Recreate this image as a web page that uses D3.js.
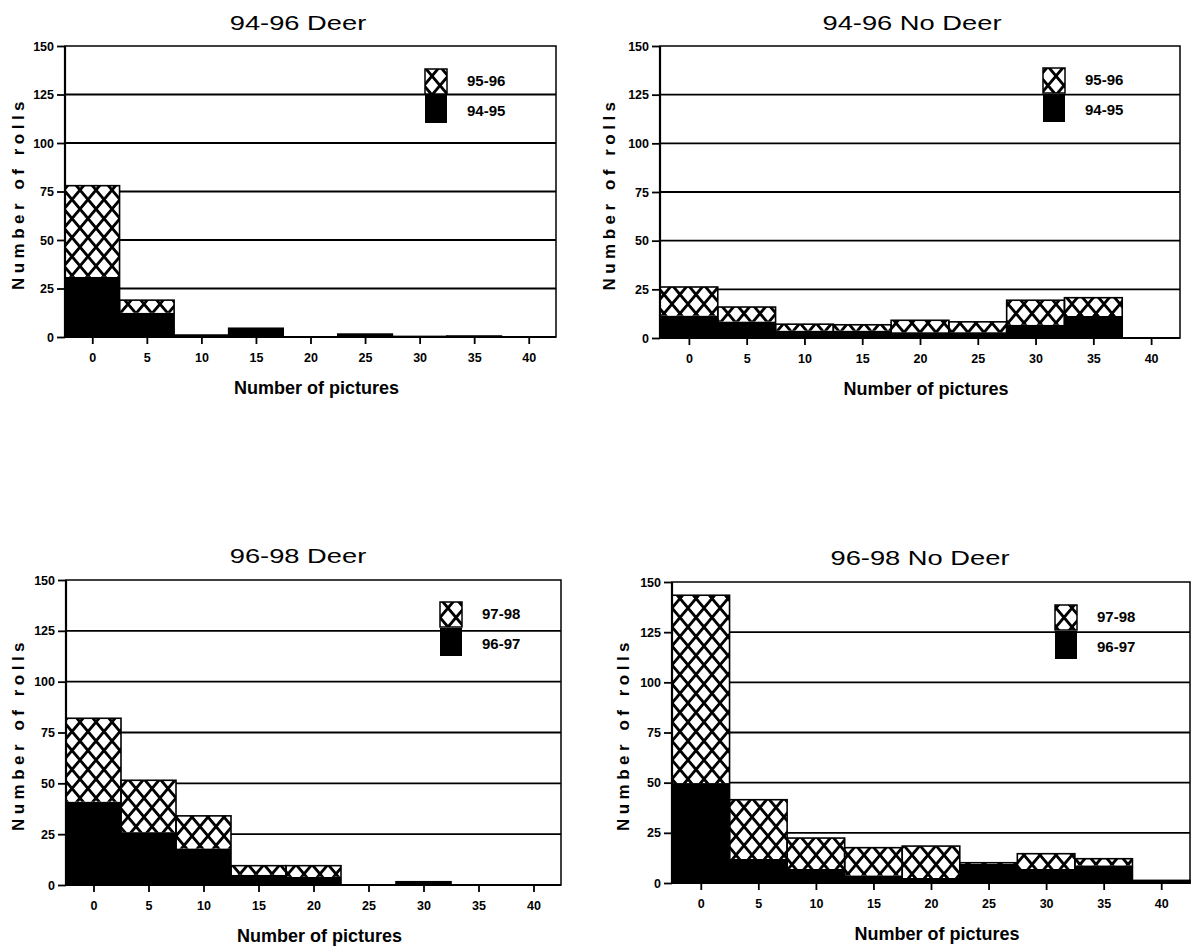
<!DOCTYPE html>
<html>
<head>
<meta charset="utf-8">
<script src="https://cdn.jsdelivr.net/npm/d3@7"></script>
<style>
body { margin: 0; background: #fff; }
svg { display: block; }
text { fill: #000; font-family: "Liberation Sans", Arial, sans-serif; }
.tick text { font-weight: bold; font-size: 12.5px; }
</style>
</head>
<body>
<svg id="s" width="1194" height="949"></svg>
<script>
// bins of number of pictures per roll
var bins = [0, 5, 10, 15, 20, 25, 30, 35, 40];
var yTicks = [0, 25, 50, 75, 100, 125, 150];

var titles = ["94-96 Deer", "94-96 No Deer", "96-98 Deer", "96-98 No Deer"];
var lateNames = ["95-96", "95-96", "97-98", "97-98"];
var earlyNames = ["94-95", "94-95", "96-97", "96-97"];

// black part (first year) and hatched part (second year), rolls per bin
var deer9495 = [31, 12.5, 1, 4.5, 0, 1.5, 0.3, 0.5, 0];
var deer9596 = [47, 6.5, 0, 0, 0, 0, 0, 0, 0];
var noDeer9495 = [11.5, 8.5, 3.8, 3.8, 3, 3, 6.8, 11.3, 0];
var noDeer9596 = [14.7, 7.4, 3.3, 3, 6.1, 5.3, 12.6, 9.4, 0];
var deer9697 = [41, 26, 18, 5, 4, 0, 1.6, 0, 0];
var deer9798 = [41, 25.5, 16, 4.5, 5.5, 0, 0, 0, 0];
var noDeer9697 = [49.8, 12, 7, 3.8, 2.5, 9.5, 7, 8.8, 1.3];
var noDeer9798 = [93.6, 29.5, 15.4, 13.8, 15.9, 0.6, 7.6, 3.3, 0];

var earlyVals = [deer9495, noDeer9495, deer9697, noDeer9697];
var lateVals = [deer9596, noDeer9596, deer9798, noDeer9798];

// where each panel sits on the page
var boxes = [
  {l: 65, r: 556, t: 46, b: 337, ty: 30, tx: 298, lx: 425, ly: 69, ax: 18},
  {l: 660, r: 1180, t: 46, b: 338, ty: 30, tx: 912, lx: 1043, ly: 68, ax: 609},
  {l: 66, r: 561, t: 580, b: 885, ty: 563, tx: 298, lx: 440, ly: 602, ax: 18},
  {l: 672, r: 1190, t: 582, b: 883, ty: 565, tx: 920, lx: 1055, ly: 605, ax: 623}
];

var svg = d3.select("#s");

var defs = svg.append("defs");
var pat = defs.append("pattern").attr("id", "hatch")
  .attr("patternUnits", "userSpaceOnUse")
  .attr("width", 16).attr("height", 19);
pat.append("rect").attr("width", 16).attr("height", 19).attr("fill", "#fff");
pat.append("path").attr("d", "M-1,-1.2L17,20.2M17,-1.2L-1,20.2")
  .attr("stroke", "#000").attr("stroke-width", 2.8);

var drawPanel = function(i) {
  var bx = boxes[i];
  var g = svg.append("g");
  var x = d3.scaleLinear().domain([-2.5, 42.5]).range([bx.l, bx.r]);
  var y = d3.scaleLinear().domain([0, 150]).range([bx.b, bx.t]);

  var rows = bins.map(function(b, j) {
    return {bin: b, early: earlyVals[i][j], late: lateVals[i][j]};
  });
  var stacked = d3.stack().keys(["early", "late"])(rows);

  // grid lines
  g.selectAll(".grid").data(yTicks.slice(1, 6)).enter().append("line")
    .attr("x1", bx.l).attr("x2", bx.r)
    .attr("y1", function(d) { return y(d); }).attr("y2", function(d) { return y(d); })
    .attr("stroke", "#000").attr("stroke-width", 1.8);

  // bars
  g.selectAll(".early").data(stacked[0]).enter().append("rect")
    .attr("x", function(d) { return x(d.data.bin - 2.5); })
    .attr("width", function(d) { return x(5) - x(0); })
    .attr("y", function(d) { return y(d[1]); })
    .attr("height", function(d) { return y(d[0]) - y(d[1]); })
    .attr("fill", "#000");
  g.selectAll(".late").data(stacked[1]).enter().append("rect")
    .attr("x", function(d) { return x(d.data.bin - 2.5); })
    .attr("width", function(d) { return x(5) - x(0); })
    .attr("y", function(d) { return y(d[1]); })
    .attr("height", function(d) { return y(d[0]) - y(d[1]); })
    .attr("fill", "url(#hatch)");
  g.selectAll(".outline").data(stacked[1].filter(function(d) { return d[1] > 0; })).enter().append("rect")
    .attr("x", function(d) { return x(d.data.bin - 2.5); })
    .attr("width", function(d) { return x(5) - x(0); })
    .attr("y", function(d) { return y(d[1]); })
    .attr("height", function(d) { return y(0) - y(d[1]); })
    .attr("fill", "none").attr("stroke", "#000").attr("stroke-width", 1.6);

  // frame
  g.append("rect").attr("x", bx.l).attr("y", bx.t)
    .attr("width", bx.r - bx.l).attr("height", bx.b - bx.t)
    .attr("fill", "none").attr("stroke", "#000").attr("stroke-width", 1.5);
  g.append("line").attr("x1", bx.l).attr("x2", bx.l).attr("y1", bx.t).attr("y2", bx.b)
    .attr("stroke", "#000").attr("stroke-width", 2.2);
  g.append("line").attr("x1", bx.l).attr("x2", bx.r).attr("y1", bx.b).attr("y2", bx.b)
    .attr("stroke", "#000").attr("stroke-width", 2.2);

  // axes
  var ya = g.append("g").attr("transform", "translate(" + bx.l + ",0)")
    .call(d3.axisLeft(y).tickValues(yTicks).tickSize(8).tickPadding(3));
  ya.select(".domain").remove();
  ya.selectAll("line").attr("stroke-width", 1.8);
  var xa = g.append("g").attr("transform", "translate(0," + bx.b + ")")
    .call(d3.axisBottom(x).tickValues(bins).tickSize(7).tickPadding(9));
  xa.select(".domain").remove();
  xa.selectAll("line").attr("stroke-width", 1.8);

  // titles
  g.append("text").attr("x", bx.tx).attr("y", bx.ty)
    .attr("text-anchor", "middle").attr("font-size", 21)
    .attr("transform", "translate(" + bx.tx + ",0) scale(1.3,1) translate(" + (-bx.tx) + ",0)")
    .text(titles[i]);
  g.append("text").attr("x", (bx.l + bx.r) / 2 + 6).attr("y", bx.b + 57)
    .attr("text-anchor", "middle").attr("font-size", 18).attr("font-weight", "bold")
    .text("Number of pictures");
  var cy = (bx.t + bx.b) / 2 + 2;
  g.append("text").attr("transform", "translate(" + (bx.ax + 6) + "," + cy + ") rotate(-90)")
    .attr("text-anchor", "middle").attr("font-size", 17).attr("font-weight", "bold")
    .attr("letter-spacing", 4.5)
    .text("Number of rolls");

  // legend
  g.append("rect").attr("x", bx.lx).attr("y", bx.ly).attr("width", 22).attr("height", 25)
    .attr("fill", "url(#hatch)").attr("stroke", "#000").attr("stroke-width", 1.5);
  g.append("rect").attr("x", bx.lx).attr("y", bx.ly + 26).attr("width", 22).attr("height", 28)
    .attr("fill", "#000");
  g.append("text").attr("x", bx.lx + 42).attr("y", bx.ly + 17)
    .attr("font-size", 15).attr("font-weight", "bold").text(lateNames[i]);
  g.append("text").attr("x", bx.lx + 42).attr("y", bx.ly + 47)
    .attr("font-size", 15).attr("font-weight", "bold").text(earlyNames[i]);
};

for (var i = 0; i < 4; i++) {
  drawPanel(i);
}
</script>
</body>
</html>
